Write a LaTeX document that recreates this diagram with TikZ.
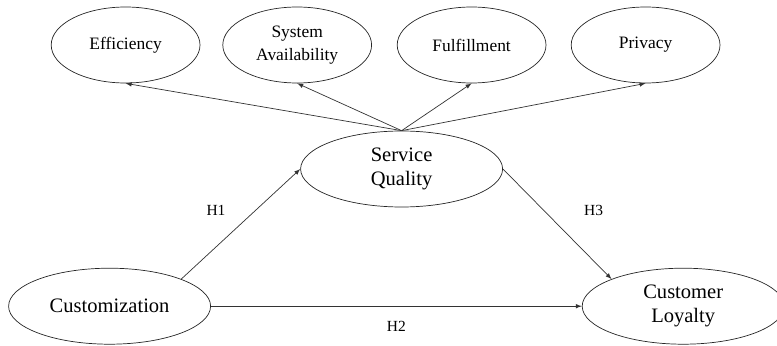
\documentclass[tikz,border=0pt]{standalone}
\usepackage{fontspec}
\setmainfont{Liberation Serif}
\usepackage{tikz}
\usetikzlibrary{arrows,shapes,positioning,calc}

\begin{document}
\begin{tikzpicture}[
    dim/.style={draw=black!85, line width=0.5pt, ellipse, minimum width=3.72cm, minimum height=1.9cm,
        align=center, font=\fontsize{12.4}{16}\selectfont},
    construct/.style={draw=black!85, line width=0.5pt, ellipse, minimum width=5.05cm, minimum height=1.9cm,
        align=center, font=\fontsize{14.6}{17}\selectfont},
    path/.style={draw=black!80, line width=0.5pt, -latex},
    hyp/.style={font=\fontsize{11}{13}\selectfont}
]
    \useasboundingbox (0,0) rectangle (19.425,8.625);

    % Dimensions of service quality
    \node[dim] (eff) at (3.14,7.5) {Efficiency};
    \node[dim] (avail) at (7.43,7.5) {System\\Availability};
    \node[dim] (fulfil) at (11.79,7.5) {Fulfillment};
    \node[dim] (priv) at (16.14,7.5) {Privacy};

    % Main constructs
    \node[construct] (sq) at (10.04,4.4) {Service\\Quality};
    \node[construct] (cust) at (2.74,0.97) {Customization};
    \node[construct] (loy) at (17.08,0.97) {Customer\\Loyalty};

    % Service quality to its dimensions
    \draw[path] (sq.north) -- (eff.south);
    \draw[path] (sq.north) -- (avail.south);
    \draw[path] (sq.north) -- (fulfil.south);
    \draw[path] (sq.north) -- (priv.south);

    % Hypotheses
    \draw[path] (cust.north east) -- (sq.west)
        node[hyp, midway, xshift=-0.62cm, yshift=0.34cm] (h1) {H1};
    \draw[path] (cust.east) -- (loy.west)
        node[hyp, midway, yshift=-0.5cm] (h2) {H2};
    \draw[path] (sq.east) -- (loy.north west)
        node[hyp, midway, xshift=0.91cm, yshift=0.35cm] (h3) {H3};
\end{tikzpicture}
\end{document}
